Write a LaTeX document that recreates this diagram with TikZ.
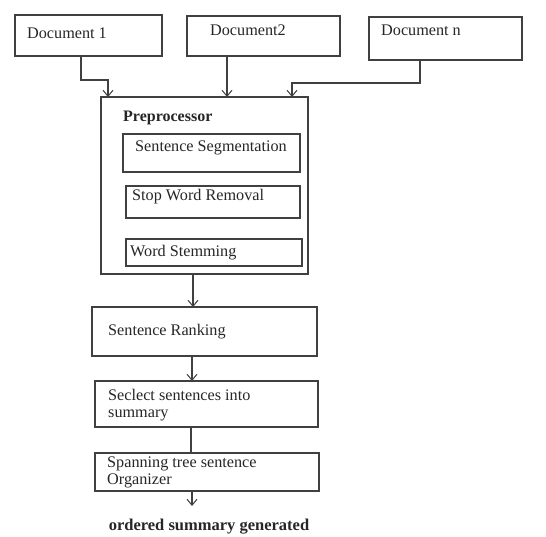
\documentclass[tikz,border=0pt]{standalone}
\usepackage{fontspec}
\setmainfont{Liberation Serif}
\usetikzlibrary{arrows.meta}
\begin{document}
\begin{tikzpicture}[x=1pt,y=-1pt,
  box/.style={draw=black!75,line width=1.3pt,inner sep=0pt,outer sep=0pt,anchor=north west},
  txt/.style={inner sep=0pt,anchor=west,font=\fontsize{16.2}{17}\selectfont,text=black!85},
  btxt/.style={txt,font=\fontsize{16}{17}\selectfont\bfseries},
  ln/.style={draw=black!75,line width=1.3pt},
  arr/.style={ln,-{Straight Barb[length=6pt,width=10pt,line width=1pt]}}]
\useasboundingbox (0,0) rectangle (546,536);
% documents
\node[box,minimum width=147pt,minimum height=41pt] (d1) at (15,15) {};
\node[box,minimum width=153pt,minimum height=40pt] (d2) at (187,16) {};
\node[box,minimum width=153pt,minimum height=43pt] (dn) at (369,17) {};
\node[txt] (t1) at (27,33) {Document 1};
\node[txt] (t2) at (210,30) {Document2};
\node[txt] (tn) at (381,30) {Document\hspace{4pt}n};
% preprocessor
\node[box,minimum width=207pt,minimum height=177pt] (pre) at (101,97) {};
\node[btxt] (tp) at (123,118) {Preprocessor};
\node[box,minimum width=177pt,minimum height=38pt] (s1) at (123,134) {};
\node[box,minimum width=174pt,minimum height=32pt] (s2) at (126,186) {};
\node[box,minimum width=176pt,minimum height=27pt] (s3) at (126,239) {};
\node[txt] (ts1) at (135,148) {Sentence Segmentation};
\node[txt] (ts2) at (132,197) {Stop Word Removal};
\node[txt] (ts3) at (130,253) {Word Stemming};
% pipeline
\node[box,minimum width=225pt,minimum height=49pt] (rank) at (92,307) {};
\node[txt] (tr) at (108,332) {Sentence Ranking};
\node[box,minimum width=223pt,minimum height=46pt] (sel) at (95,381) {};
\node[txt,align=left] (tsel) at (108,405) {Seclect sentences into\\summary};
\node[box,minimum width=224pt,minimum height=38pt] (span) at (95,453) {};
\node[txt,align=left] (tspan) at (107,472) {Spanning tree sentence\\Organizer};
\node[btxt,font=\fontsize{16.5}{17}\selectfont\bfseries,anchor=center] (out) at (209,527) {ordered summary generated};
% connectors
\coordinate (x1) at (81,0);
\coordinate (x1b) at (108,80);
\coordinate (x2) at (227,0);
\coordinate (x3) at (420,0);
\coordinate (x3b) at (292,83);
\coordinate (xm) at (193,0);
\coordinate (xm2) at (192,0);
\coordinate (xm3) at (191,0);
\coordinate (endp) at (192,506);
\draw[arr] (d1.south -| x1) |- (x1b) -- (pre.north -| x1b);
\draw[arr] (d2.south -| x2) -- (pre.north -| x2);
\draw[arr] (dn.south -| x3) |- (x3b) -- (pre.north -| x3b);
\draw[arr] (pre.south -| xm) -- (rank.north -| xm);
\draw[arr] (rank.south -| xm2) -- (sel.north -| xm2);
\draw[ln] (sel.south -| xm3) -- (span.north -| xm3);
\draw[arr] (span.south -| xm2) -- (endp);
\end{tikzpicture}
\end{document}
